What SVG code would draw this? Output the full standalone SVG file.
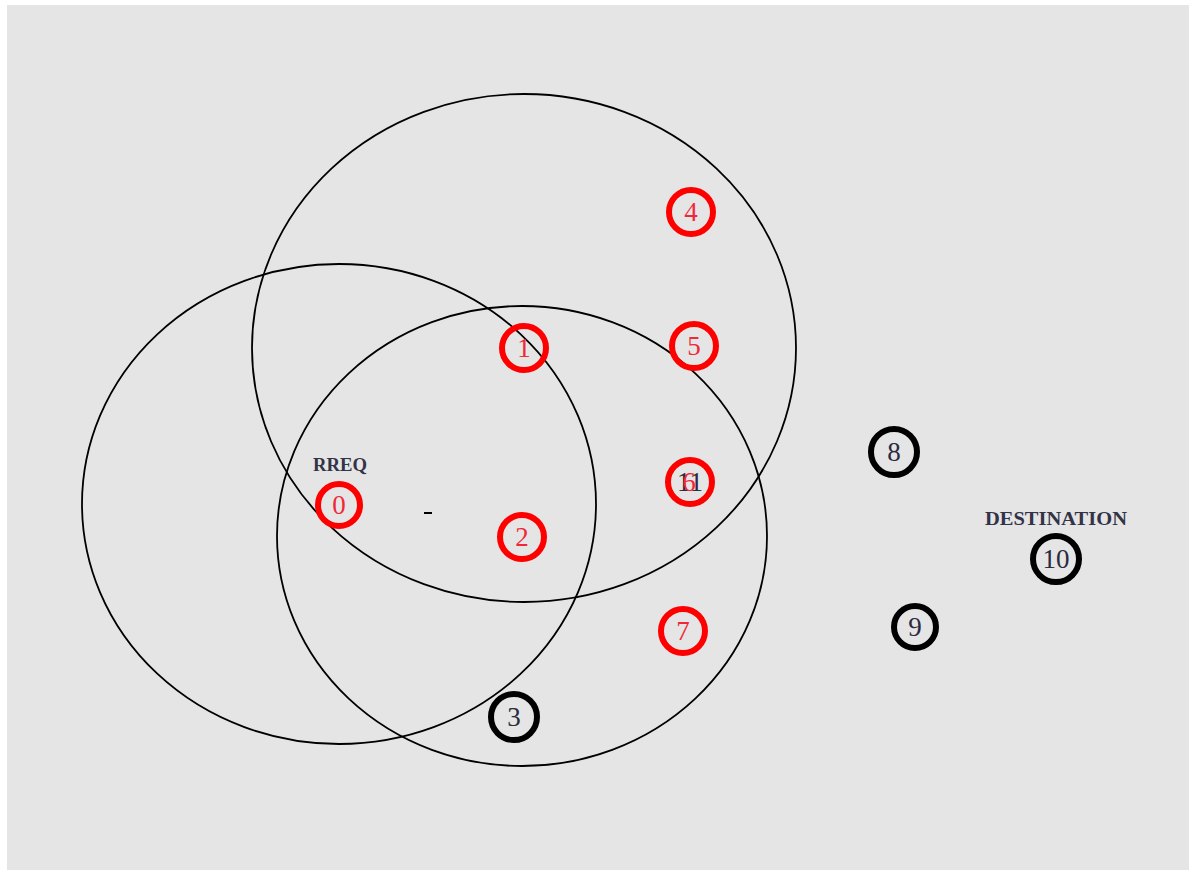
<svg xmlns="http://www.w3.org/2000/svg" width="1189" height="870" viewBox="0 0 1189 870">
<style>
.range{fill:none;stroke:#000;stroke-width:1.8}
.rn{fill:none;stroke:#ff0000;stroke-width:6}
.bn{fill:none;stroke:#000;stroke-width:6}
.rl{font-family:"Liberation Serif","Times New Roman",serif;font-size:27px;fill:#f02838;text-anchor:middle}
.bl{font-family:"Liberation Serif","Times New Roman",serif;font-size:27px;fill:#2a2a40;text-anchor:middle}
.tag{font-family:"Liberation Serif","Times New Roman",serif;font-size:18px;fill:#333348;font-weight:bold}
</style>
<rect x="0" y="0" width="1189" height="870" fill="#ffffff"/>
<rect x="7" y="5" width="1182" height="865" fill="#e5e5e5"/>
<g id="connectors">
<ellipse class="range" cx="339" cy="504" rx="257" ry="240"/>
<ellipse class="range" cx="524" cy="348" rx="272" ry="254"/>
<ellipse class="range" cx="522" cy="536" rx="245" ry="230"/>
<line x1="424" y1="513" x2="432" y2="513" stroke="#000" stroke-width="2"/>
</g>
<g id="n0"><circle class="rn" cx="339" cy="505" r="21"/><text class="rl" x="339" y="514">0</text><text class="tag" x="313" y="471" textLength="54" lengthAdjust="spacingAndGlyphs">RREQ</text></g>
<g id="n1"><circle class="rn" cx="524" cy="348" r="22"/><text class="rl" x="524" y="357">1</text></g>
<g id="n2"><circle class="rn" cx="522" cy="537" r="22"/><text class="rl" x="522" y="546">2</text></g>
<g id="n3"><circle class="bn" cx="514" cy="717" r="23"/><text class="bl" x="514" y="726">3</text></g>
<g id="n4"><circle class="rn" cx="691" cy="212" r="22"/><text class="rl" x="691" y="221">4</text></g>
<g id="n5"><circle class="rn" cx="694" cy="346" r="22"/><text class="rl" x="694" y="355">5</text></g>
<g id="n11"><circle class="rn" cx="690" cy="482" r="22"/><text class="bl" x="690" y="491">11</text></g>
<g id="n6"><text class="rl" x="689" y="491">6</text></g>
<g id="n7"><circle class="rn" cx="683" cy="631" r="22"/><text class="rl" x="683" y="640">7</text></g>
<g id="n8"><circle class="bn" cx="894" cy="452" r="23"/><text class="bl" x="894" y="461">8</text></g>
<g id="n9"><circle class="bn" cx="915" cy="627" r="21"/><text class="bl" x="915" y="636">9</text></g>
<g id="n10"><circle class="bn" cx="1056" cy="559" r="23"/><text class="bl" x="1056" y="568">10</text><text class="tag" x="985" y="525" textLength="142" lengthAdjust="spacingAndGlyphs">DESTINATION</text></g>
</svg>
